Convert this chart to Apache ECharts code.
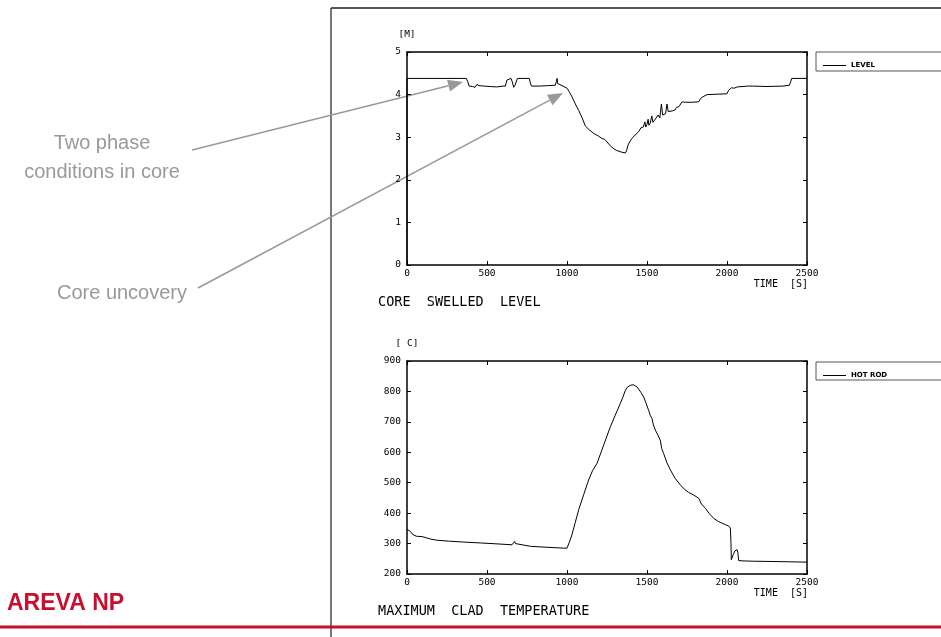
<!DOCTYPE html>
<html>
<head>
<meta charset="utf-8">
<script src="https://cdn.jsdelivr.net/npm/echarts@6/dist/echarts.min.js"></script>
<style>
  html, body { margin: 0; padding: 0; background: #fff; }
  #chart { width: 941px; height: 637px; }
</style>
</head>
<body>
<div id="chart"></div>
<script>
// tick labels of the axes
const timeTicks = [0, 500, 1000, 1500, 2000, 2500];
const levelTicks = [0, 1, 2, 3, 4, 5];
const tempTicks = [200, 300, 400, 500, 600, 700, 800, 900];

// core swelled level [m] vs time [s]
const levelPoints = [
  [0, 0], [0, 4.38], [371, 4.38], [380, 4.3], [388, 4.2], [396, 4.17], [410, 4.19], [425, 4.17],
  [437, 4.24], [450, 4.21], [480, 4.2], [520, 4.19], [560, 4.18], [600, 4.2], [615, 4.2],
  [624, 4.34], [631, 4.38], [650, 4.38], [658, 4.3], [667, 4.17], [675, 4.22], [690, 4.38],
  [765, 4.38], [772, 4.25], [779, 4.2], [830, 4.2], [880, 4.21], [927, 4.22], [933, 4.3],
  [938, 4.38], [942, 4.26], [948, 4.22], [975, 4.2], [985, 4.16], [1000, 4.15], [1012, 4.08],
  [1031, 3.95], [1052, 3.78], [1073, 3.63], [1095, 3.45], [1115, 3.26], [1140, 3.17],
  [1167, 3.09], [1195, 3.03], [1219, 2.97], [1235, 2.95], [1250, 2.89], [1270, 2.8],
  [1292, 2.73], [1310, 2.69], [1333, 2.66], [1350, 2.64], [1365, 2.63], [1372, 2.68],
  [1381, 2.81], [1393, 2.9], [1406, 2.97], [1425, 3.05], [1448, 3.13], [1456, 3.17],
  [1462, 3.22], [1470, 3.26], [1477, 3.24], [1487, 3.36], [1492, 3.24], [1500, 3.3],
  [1507, 3.42], [1512, 3.28], [1520, 3.33], [1530, 3.5], [1537, 3.35], [1547, 3.4],
  [1555, 3.38], [1570, 3.52], [1580, 3.45], [1590, 3.78], [1598, 3.52], [1608, 3.5],
  [1616, 3.55], [1625, 3.78], [1633, 3.6], [1645, 3.6], [1660, 3.62], [1675, 3.64],
  [1685, 3.7], [1700, 3.72], [1719, 3.83], [1740, 3.82], [1780, 3.82], [1823, 3.83],
  [1833, 3.9], [1850, 3.95], [1875, 4.0], [1940, 4.01], [2000, 4.02], [2010, 4.1],
  [2018, 4.14], [2022, 4.1], [2028, 4.16], [2033, 4.12], [2045, 4.15], [2063, 4.18],
  [2100, 4.19], [2130, 4.2], [2136, 4.24], [2142, 4.19], [2160, 4.2], [2250, 4.19],
  [2350, 4.2], [2390, 4.22], [2398, 4.3], [2404, 4.38], [2500, 4.38]
];

// maximum clad temperature [C] vs time [s]
const cladTempPoints = [
  [0, 347], [10, 345], [21, 340], [35, 330], [42, 326], [60, 324], [94, 323], [120, 319],
  [146, 315], [188, 311], [260, 308], [354, 305], [460, 302], [563, 299], [656, 296],
  [665, 298], [673, 307], [678, 300], [683, 295], [771, 291], [870, 288], [979, 285],
  [1000, 285], [1015, 305], [1031, 329], [1052, 370], [1073, 411], [1105, 462], [1135, 509],
  [1160, 540], [1188, 564], [1230, 625], [1271, 684], [1300, 720], [1333, 760], [1350, 782],
  [1365, 804], [1375, 813], [1385, 817], [1395, 820], [1406, 819], [1415, 822], [1427, 818],
  [1437, 815], [1448, 809], [1462, 797], [1479, 782], [1495, 760], [1510, 738], [1520, 722],
  [1531, 711], [1540, 690], [1552, 673], [1565, 660], [1583, 640], [1592, 612], [1604, 596],
  [1625, 565], [1646, 542], [1675, 515], [1708, 493], [1735, 478], [1760, 468], [1790, 460],
  [1823, 449], [1840, 430], [1865, 416], [1890, 398], [1917, 383], [1945, 373], [1969, 367],
  [1990, 362], [2010, 358], [2021, 351], [2025, 300], [2027, 247], [2031, 244], [2040, 265],
  [2050, 276], [2063, 280], [2068, 270], [2073, 244], [2100, 243], [2167, 242], [2300, 241],
  [2400, 240], [2500, 239]
];

const chart = echarts.init(document.getElementById('chart'));
window.onresize = function () { chart.resize(); };

const mono = 'DejaVu Sans Mono';
const grey = '#999';
const red = '#C8102E';

const axisLine = { show: true, onZero: false, lineStyle: { color: '#000', width: 1.5 } };
const tick = { show: true, inside: true, length: 4, lineStyle: { color: '#000', width: 1 } };
const label = { fontFamily: mono, fontSize: 9.5, color: '#000', formatter: v => String(v) };

function range(ticks) {
  return { min: ticks[0], max: ticks[ticks.length - 1], interval: ticks[1] - ticks[0] };
}

function xAxes(gridIndex) {
  return [
    Object.assign({ type: 'value', gridIndex, position: 'bottom', axisLine, axisTick: tick,
      axisLabel: Object.assign({ margin: 4 }, label), splitLine: { show: false } }, range(timeTicks)),
    Object.assign({ type: 'value', gridIndex, position: 'top', axisLine, axisTick: tick,
      axisLabel: { show: false }, splitLine: { show: false } }, range(timeTicks))
  ];
}

function yAxes(gridIndex, ticks) {
  return [
    Object.assign({ type: 'value', gridIndex, position: 'left', axisLine, axisTick: tick,
      axisLabel: Object.assign({ margin: 6 }, label), splitLine: { show: false } }, range(ticks)),
    Object.assign({ type: 'value', gridIndex, position: 'right', axisLine, axisTick: tick,
      axisLabel: { show: false }, splitLine: { show: false } }, range(ticks))
  ];
}

function arrow(x1, y1, x2, y2) {
  const a = Math.atan2(y2 - y1, x2 - x1);
  const len = 15, half = 6;
  const bx = x2 - len * Math.cos(a), by = y2 - len * Math.sin(a);
  return [
    { type: 'line', shape: { x1, y1, x2: bx, y2: by }, style: { stroke: grey, lineWidth: 1.5 } },
    { type: 'polygon', shape: { points: [[x2, y2], [bx + half * Math.sin(a), by - half * Math.cos(a)],
      [bx - half * Math.sin(a), by + half * Math.cos(a)]] }, style: { fill: grey } }
  ];
}

function text(str, x, y, font, fill, align) {
  return { type: 'text', style: { text: str, x, y, font, fill, align: align || 'left', verticalAlign: 'middle' } };
}

const legendText = { fontFamily: 'DejaVu Sans', fontSize: 7, fontWeight: 'bold', color: '#000' };

const option = {
  animation: false,
  grid: [
    { left: 407, top: 52, width: 400, height: 213 },
    { left: 407, top: 361, width: 400, height: 213 }
  ],
  xAxis: xAxes(0).concat(xAxes(1)),
  yAxis: yAxes(0, levelTicks).concat(yAxes(1, tempTicks)),
  legend: [
    { data: ['LEVEL'], left: 818, top: 57, icon: 'rect', itemWidth: 23, itemHeight: 1, itemGap: 4,
      textStyle: legendText },
    { data: ['HOT ROD'], left: 818, top: 367, icon: 'rect', itemWidth: 23, itemHeight: 1, itemGap: 4,
      textStyle: legendText }
  ],
  series: [
    { name: 'LEVEL', type: 'line', xAxisIndex: 0, yAxisIndex: 0, data: levelPoints, showSymbol: false,
      lineStyle: { color: '#000', width: 1 }, itemStyle: { color: '#000' } },
    { name: 'HOT ROD', type: 'line', xAxisIndex: 2, yAxisIndex: 2, data: cladTempPoints, showSymbol: false,
      lineStyle: { color: '#000', width: 1 }, itemStyle: { color: '#000' } }
  ],
  graphic: [
    // page frame
    { type: 'line', shape: { x1: 331, y1: 8, x2: 331, y2: 637 }, style: { stroke: '#777', lineWidth: 2 } },
    { type: 'line', shape: { x1: 331, y1: 8, x2: 941, y2: 8 }, style: { stroke: '#222', lineWidth: 1.5 } },
    { type: 'line', shape: { x1: 0, y1: 627, x2: 941, y2: 627 }, style: { stroke: red, lineWidth: 3 } },
    // legend boxes
    { type: 'rect', shape: { x: 816, y: 52, width: 140, height: 19 }, style: { fill: 'none', stroke: '#555', lineWidth: 1 } },
    { type: 'rect', shape: { x: 816, y: 362, width: 140, height: 18 }, style: { fill: 'none', stroke: '#555', lineWidth: 1 } },
    // axis captions
    text('[M]', 407, 35, '9.5px "DejaVu Sans Mono"', '#000', 'center'),
    text('[ C]', 407, 344, '9.5px "DejaVu Sans Mono"', '#000', 'center'),
    text('TIME  [S]', 808, 284, '10px "DejaVu Sans Mono"', '#000', 'right'),
    text('TIME  [S]', 808, 593, '10px "DejaVu Sans Mono"', '#000', 'right'),
    text('CORE  SWELLED  LEVEL', 378, 302, '13.5px "DejaVu Sans Mono"', '#000'),
    text('MAXIMUM  CLAD  TEMPERATURE', 378, 611, '13.5px "DejaVu Sans Mono"', '#000'),
    // annotations
    text('Two phase', 102, 143, '20px "Liberation Sans"', grey, 'center'),
    text('conditions in core', 102, 172, '20px "Liberation Sans"', grey, 'center'),
    text('Core uncovery', 122, 293, '20px "Liberation Sans"', grey, 'center'),
    text('AREVA NP', 7, 604, 'bold 23px "Liberation Sans"', red)
  ].concat(arrow(192, 150, 463, 82)).concat(arrow(198, 288, 563, 93))
};

chart.setOption(option, true);
</script>
</body>
</html>
